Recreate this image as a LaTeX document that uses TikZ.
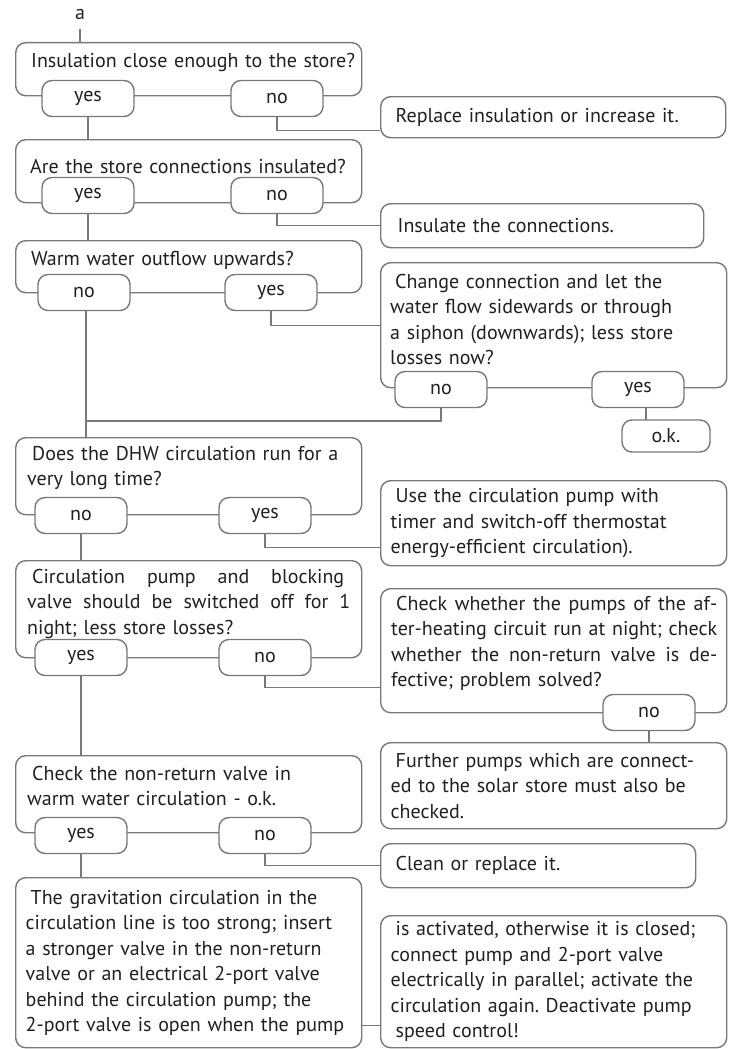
\documentclass[tikz,border=0pt]{standalone}
\usepackage{fontspec}
\setmainfont{PT Sans}
\usetikzlibrary{positioning,calc}

\definecolor{linegray}{RGB}{120,120,120}
\definecolor{inkblack}{RGB}{35,31,32}
\newcommand{\boxfont}{\fontsize{20}{25.5}\selectfont\frenchspacing}
\newcommand{\ind}{\hspace*{5pt}}
% justified line of a given width
\newcommand{\jline}[2]{\makebox[#1][s]{\spaceskip=5pt plus 1fil\relax #2}}

\begin{document}
\begin{tikzpicture}[x=1pt, y=-1pt,
    frame/.style={draw=linegray, line width=1.4pt, rounded corners=10pt, anchor=north west, inner sep=0pt},
    qtext/.style={anchor=base west, align=left, inner sep=0pt, font=\boxfont, text=inkblack, text width=330pt},
    note/.style={frame, align=left, font=\boxfont, text=inkblack},
    pill/.style={draw=linegray, fill=white, line width=1.4pt, rounded corners=10pt, minimum width=92pt, minimum height=36pt, inner sep=0pt, font=\boxfont, text=inkblack},
    link/.style={draw=linegray, line width=1.4pt}
]
\useasboundingbox (0,0) rectangle (728,1049);

% Left column: questions
\node[font=\boxfont, text=inkblack, inner sep=0pt, anchor=base] (start) at (80,20) {a};
\node[frame, minimum width=346pt, minimum height=53pt] (q1) at (15,42) {};
\node[qtext] (q1t) at (31,67) {Insulation close enough to the store?};
\node[frame, minimum width=346pt, minimum height=63pt] (q2) at (15,139) {};
\node[qtext] (q2t) at (30,173) {Are the store connections insulated?};
\node[frame, minimum width=346pt, minimum height=52pt] (q3) at (15,240) {};
\node[qtext] (q3t) at (31,265) {Warm water outflow upwards?};
\node[frame, minimum width=346pt, minimum height=77pt] (q4) at (15,437) {};
\node[qtext] (q4t) at (27,460) {\ind Does the DHW circulation run for a\\very long time?};
\node[frame, minimum width=346pt, minimum height=97pt] (q5) at (15,560) {};
\node[qtext] (q5t) at (27,583) {\ind\jline{312pt}{Circulation pump and blocking}\\
  \jline{323pt}{valve should be switched off for 1}\\
  night; less store losses?};
\node[frame, minimum width=346pt, minimum height=77pt] (q6) at (15,755) {};
\node[qtext] (q6t) at (27,780) {\ind Check the non-return valve in\\warm water circulation - o.k.};
\node[note, minimum width=346pt, minimum height=170pt, text width=326pt, inner xsep=10pt] (grav) at (15,877)
  {\ind The gravitation circulation in the\\circulation line is too strong; insert\\a stronger valve in the non-return\\valve or an electrical 2-port valve\\behind the circulation pump; the\\2-port valve is open when the pump};

% Right column: actions
\node[note, minimum width=345pt, minimum height=41pt, text width=315pt, inner xsep=15pt] (r1) at (380,96) {Replace insulation or increase it.};
\node[note, minimum width=323pt, minimum height=44pt, text width=289pt, inner xsep=17pt] (r2) at (380,203) {Insulate the connections.};
\node[frame, minimum width=346pt, minimum height=125pt] (r3) at (380,262) {};
\node[qtext] (r3t) at (390,288) {\ind Change connection and let the\\water flow sidewards or through\\a siphon (downwards); less store\\losses now?};
\node[note, minimum width=346pt, minimum height=85pt, text width=326pt, inner xsep=10pt] (r4) at (380,480)
  {\ind Use the circulation pump with\\timer and switch-off thermostat\\energy-efficient circulation).};
\node[frame, minimum width=346pt, minimum height=124pt] (r5) at (380,588) {};
\node[qtext] (r5t) at (391,610) {\ind\jline{321pt}{Check whether the pumps of the af-}\\
  \jline{326pt}{ter-heating circuit run at night; check}\\
  \jline{326pt}{whether the non-return valve is de-}\\
  fective; problem solved?};
\node[note, minimum width=346pt, minimum height=86pt, text width=326pt, inner xsep=10pt] (r6) at (380,742)
  {\ind Further pumps which are connect-\\ed to the solar store must also be\\checked.};
\node[note, minimum width=315pt, minimum height=44pt, text width=285pt, inner xsep=15pt] (r7) at (380,843) {Clean or replace it.};
\node[note, minimum width=346pt, minimum height=132pt, text width=326pt, inner xsep=10pt] (r8) at (380,915)
  {\ind is activated, otherwise it is closed;\\connect pump and 2-port valve\\electrically in parallel; activate the\\circulation again. Deactivate pump\\\ind speed control!};

% Connectors
\coordinate (join) at (86,421);
\draw[link] ([yshift=-9pt]start.south) -- (start |- q1.north);
\draw[link] (88,117) -- (88,139);
\draw[link] (277,117) |- ([yshift=-13.5pt]r1.west);
\draw[link] (88,213) -- (88,240);
\draw[link] (277,213) |- (r2.west);
\draw[link] (86,310) -- (86,437);
\draw[link] (271,310) |- (r3.west);
\draw[link] (441,407) |- (join);
\draw[link] (646,407) -- (646,420);
\draw[link] (81,533) -- (81,560);
\draw[link] (265,533) |- ([yshift=-24.5pt]r4.west);
\draw[link] (81,675) -- (81,755);
\draw[link] (265,675) |- ([yshift=-37pt]r5.west);
\draw[link] (649,730) -- (649,742);
\draw[link] (81,853) -- (81,877);
\draw[link] (265,853) |- (r7.west);
\draw[link] ([yshift=-63pt]grav.east) -- ([yshift=-63pt]grav.east -| r8.west);

% Answer pills
\node[pill] (q1yes) at (88,98.5) {yes};
\node[pill] (q1no) at (277,98.5) {no};
\node[pill] (q2yes) at (88,195.5) {yes};
\node[pill] (q2no) at (277,195.5) {no};
\node[pill] (q3no) at (84,292.5) {no};
\node[pill] (q3yes) at (271,292.5) {yes};
\node[pill] (q4no) at (81,515.5) {no};
\node[pill] (q4yes) at (265,515.5) {yes};
\node[pill] (q5yes) at (81,657.5) {yes};
\node[pill] (q5no) at (265,657.5) {no};
\node[pill] (q6yes) at (81,835.5) {yes};
\node[pill] (q6no) at (265,835.5) {no};
\node[pill] (r3no) at (441,389.5) {no};
\node[pill] (r3yes) at (638,389.5) {yes};
\node[pill, minimum width=88pt, minimum height=32pt] (ok) at (666,436) {o.k.};
\node[pill] (r5no) at (649,712.5) {no};

\end{tikzpicture}
\end{document}
